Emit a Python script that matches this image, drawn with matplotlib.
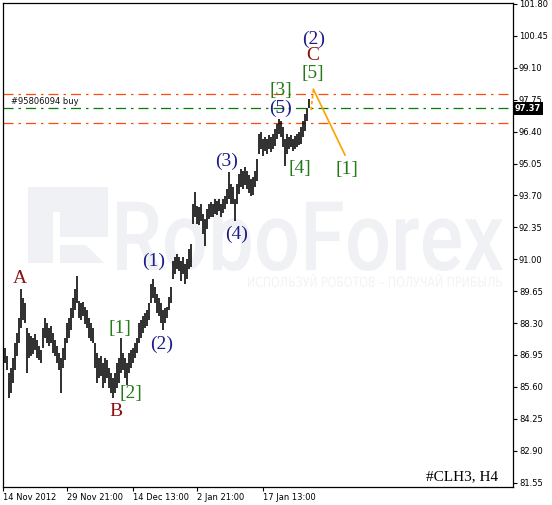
#!/usr/bin/env python3
# coding: utf-8

import matplotlib
matplotlib.use('Agg')
import matplotlib.pyplot as plt
from matplotlib.textpath import TextPath
from matplotlib.font_manager import FontProperties
from matplotlib.patches import PathPatch, Polygon
from matplotlib.transforms import Affine2D

# H4 bars (two bars per column), high / low
highs = [87.03, 87.24, 86.90, 86.18, 86.39, 86.81, 87.45, 87.87, 88.50, 89.76,
         89.34, 89.13, 88.08, 87.87, 87.74, 87.66, 87.82, 87.57, 87.32, 87.15,
         88.08, 88.50, 88.29, 88.08, 88.16, 87.87, 87.57, 87.32, 87.03, 86.81,
         87.24, 87.66, 88.29, 88.50, 88.92, 89.34, 89.76, 90.31, 89.25, 89.13,
         89.21, 89.00, 88.84, 88.50, 88.29, 88.08, 87.45, 87.03, 86.81, 86.90,
         86.60, 86.81, 86.73, 86.39, 86.18, 85.97, 86.18, 86.60, 86.81, 87.66,
         87.03, 86.81, 86.60, 87.03, 87.15, 87.24, 87.45, 87.66, 88.29, 88.42,
         88.58, 88.71, 88.84, 89.13, 89.97, 90.18, 89.84, 89.55, 89.34, 89.13,
         88.84, 88.92, 89.00, 89.42, 89.84, 90.94, 91.11, 91.24, 91.11, 90.94,
         91.11, 90.81, 91.02, 91.45, 91.66, 93.34, 93.84, 93.26, 93.21, 93.34,
         92.92, 92.71, 93.13, 93.34, 93.42, 93.34, 93.55, 93.47, 93.55, 93.34,
         93.55, 93.68, 93.97, 94.69, 94.18, 94.06, 93.55, 94.18, 94.60, 94.81,
         94.73, 94.90, 94.73, 94.56, 94.39, 94.48, 94.73, 95.23, 96.29, 96.37,
         96.08, 96.16, 96.08, 96.24, 96.16, 96.29, 96.50, 96.71, 96.92, 96.84,
         96.58, 96.08, 96.29, 96.16, 96.24, 96.08, 96.21, 96.29, 96.37, 96.58,
         96.84, 97.13, 97.42, 97.76]
lows = [86.47, 86.60, 86.31, 85.13, 85.34, 85.76, 86.31, 86.90, 87.45, 88.08,
        88.42, 88.29, 86.18, 86.81, 86.90, 86.98, 87.15, 86.81, 86.73, 86.60,
        87.24, 87.66, 87.45, 87.32, 87.45, 87.03, 86.90, 86.60, 86.31, 85.34,
        86.39, 86.73, 87.45, 87.66, 87.99, 88.50, 88.84, 89.13, 88.50, 88.42,
        88.58, 88.25, 88.08, 87.66, 87.53, 87.45, 86.39, 85.76, 85.97, 86.05,
        85.55, 85.76, 85.97, 85.55, 85.34, 85.13, 85.34, 85.55, 85.76, 86.18,
        86.31, 85.97, 85.68, 86.18, 86.39, 86.60, 86.81, 87.03, 87.45, 87.66,
        87.87, 88.08, 88.16, 88.42, 89.13, 89.34, 89.13, 88.71, 88.58, 88.29,
        87.99, 88.29, 88.50, 88.84, 89.13, 90.18, 90.39, 90.60, 90.52, 90.10,
        90.39, 89.97, 90.18, 90.60, 90.69, 92.50, 92.79, 92.50, 92.46, 92.62,
        92.08, 91.57, 92.29, 92.71, 92.79, 92.79, 92.92, 92.88, 93.05, 92.79,
        92.96, 93.13, 93.34, 93.55, 93.34, 93.34, 92.62, 93.34, 93.76, 94.06,
        93.97, 94.14, 93.97, 93.80, 93.68, 93.72, 94.06, 94.31, 95.45, 95.66,
        95.36, 95.57, 95.45, 95.66, 95.53, 95.66, 95.78, 96.08, 96.29, 96.16,
        95.74, 94.94, 95.45, 95.66, 95.74, 95.57, 95.66, 95.74, 95.82, 95.86,
        96.16, 96.42, 96.84, 97.38]

# forecast zigzag (bar index, price)
wave_x = [154.0, 155.2, 171.0]
wave_y = [97.31, 98.19, 95.41]

order_price = 97.38
stop_levels = [97.98, 96.78]
last_price = 97.37

yticks = [81.55, 82.90, 84.25, 85.60, 86.95, 88.30, 89.65, 91.00,
          92.35, 93.70, 95.05, 96.40, 97.75, 99.10, 100.45, 101.80]
xtick_idx = [0, 32, 65, 97, 130]
xtick_labels = ['14 Nov 2012', '29 Nov 21:00', '14 Dec 13:00', '2 Jan 21:00', '17 Jan 13:00']

NAVY = '#1c1c8a'
DRED = '#8b1010'
GREEN = '#237a17'
labels = [
    ('(2)', 155.25, 100.32, NAVY), ('C', 155.0, 99.62, DRED), ('[5]', 155.0, 98.84, GREEN),
    ('[3]', 139.0, 98.16, GREEN), ('(5)', 139.0, 97.40, NAVY), ('[4]', 148.5, 94.86, GREEN),
    ('[1]', 172.0, 94.78, GREEN), ('(3)', 112.0, 95.16, NAVY), ('(4)', 117.0, 92.07, NAVY),
    ('A', 8.25, 90.18, DRED), ('B', 56.5, 84.56, DRED), ('[1]', 58.5, 88.09, GREEN),
    ('[2]', 64.0, 85.30, GREEN), ('(1)', 75.25, 90.93, NAVY), ('(2)', 79.25, 87.41, NAVY),
]

W, H = 552, 505
WM = '#eff1f4'


def px_transform(fig):
    # pixel coords measured from the top-left corner
    return Affine2D().scale(1, -1).translate(0, H).scale(1.0 / W, 1.0 / H) + fig.transFigure


def stamp(ax, fig, s, box, family, color, weight='normal'):
    tp = TextPath((0, 0), s, size=100, prop=FontProperties(family=family, weight=weight))
    ext = tp.get_extents()
    x0, x1, ytop, ybot = box
    sx = (x1 - x0) / ext.width
    sy = (ybot - ytop) / ext.height
    tr = (Affine2D().translate(-ext.x0, -ext.y0).scale(sx, sy)
          .translate(x0, H - ybot).scale(1.0 / W, 1.0 / H) + fig.transFigure)
    ax.add_artist(PathPatch(tp, transform=tr, fc=color, ec='none', zorder=0))


def main():
    fig = plt.figure(figsize=(W / 100, H / 100), dpi=100)
    ax = fig.add_axes([2.8 / W, 18.3 / H, 509.9 / W, 484.0 / H])
    ax.set_xlim(-0.1, 254.85)
    ax.set_ylim(81.377, 101.855)

    # watermark
    trp = px_transform(fig)
    logo = [
        [(28, 187), (53, 187), (53, 263), (28, 263)],
        [(53, 187), (108, 187), (108, 237), (60, 237), (60, 212), (53, 212)],
        [(60, 245), (86, 245), (104, 263), (60, 263)],
    ]
    for pts in logo:
        ax.add_artist(Polygon(pts, closed=True, fc=WM, ec='none', transform=trp, zorder=0))
    stamp(ax, fig, 'RoboForex', (117, 503, 198, 271), 'Roboto', WM, 'medium')
    stamp(ax, fig, 'ИСПОЛЬЗУЙ РОБОТОВ – ПОЛУЧАЙ ПРИБЫЛЬ', (248, 502, 274, 287),
          'DejaVu Sans', '#f2f3f6')

    # levels
    dd = (0, (8, 4, 2, 4))
    for lv in stop_levels:
        ax.axhline(lv, color='#ff4a0a', lw=0.9, ls=dd, zorder=2)
    ax.axhline(order_price, color='#008000', lw=0.9, ls=dd, zorder=2)
    ax.text(4, order_price + 0.12, '#95806094 buy', fontsize=6, color='#101010',
            va='bottom', ha='left')

    # price bars
    idx = list(range(len(highs)))
    ax.vlines(idx, lows, highs, color='black', lw=1.15, zorder=3)

    # forecast
    ax.plot(wave_x[:2], wave_y[:2], color='#ffa000', lw=1.2, ls=(0, (2, 1.5)), zorder=4)
    ax.plot(wave_x[1:], wave_y[1:], color='#ffa000', lw=1.2, zorder=4)

    for s, x, y, c in labels:
        ax.text(x, y, s, fontsize=14, family='Liberation Serif', color=c,
                ha='center', va='center', zorder=5)

    ax.text(0.971, 0.014, '#CLH3, H4', transform=ax.transAxes, fontsize=11,
            family='Liberation Serif', ha='right', va='baseline', color='black')

    # axes
    ax.yaxis.tick_right()
    ax.set_yticks(yticks)
    ax.set_yticklabels(['%.2f' % v for v in yticks])
    ax.set_xticks(xtick_idx)
    ax.set_xticklabels(xtick_labels, ha='left')
    ax.tick_params(axis='both', labelsize=6, length=3, width=0.8, pad=1.5, direction='out')
    for sp in ax.spines.values():
        sp.set_linewidth(0.9)

    # current price tag
    ax.text(1.004, (last_price - 81.377) / (101.855 - 81.377), '%.2f' % last_price,
            transform=ax.transAxes, fontsize=6, color='white', weight='bold',
            ha='left', va='center',
            bbox=dict(boxstyle='square,pad=0.25', fc='black', ec='none'), clip_on=False,
            zorder=10)

    fig.savefig('out.png', dpi=100)


if __name__ == '__main__':
    main()
